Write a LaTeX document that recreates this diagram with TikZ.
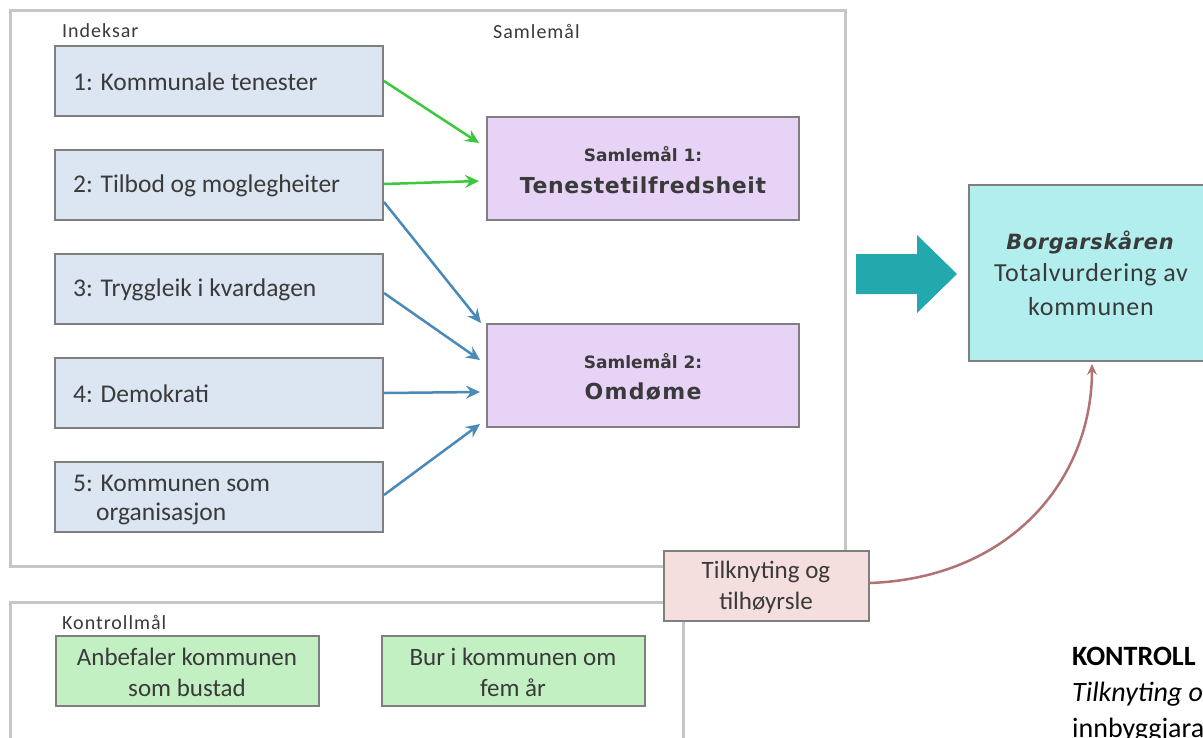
\documentclass[tikz,border=0pt]{standalone}
\usepackage{fontspec}
\setmainfont{Carlito}
\newfontfamily\titlefont{DejaVu Sans}
\usetikzlibrary{arrows.meta,calc}
\definecolor{txt}{HTML}{3A3A3A}
\definecolor{frame}{HTML}{C6C6C6}
\definecolor{bord}{HTML}{7F7F7F}
\definecolor{idxfill}{HTML}{DCE6F2}
\definecolor{samfill}{HTML}{E6D3F5}
\definecolor{borgfill}{HTML}{B2EEEE}
\definecolor{kfill}{HTML}{C2F0C2}
\definecolor{tfill}{HTML}{F5DEDE}
\definecolor{garrow}{HTML}{3CC83C}
\definecolor{barrow}{HTML}{4A8AB8}
\definecolor{teal}{HTML}{22A8AD}
\definecolor{curve}{HTML}{B07272}
\begin{document}
\begin{tikzpicture}[x=1pt,y=-1pt,
  every node/.style={text=txt,inner sep=0pt},
  framebox/.style={draw=frame,line width=3pt},
  idx/.style={draw=bord,line width=2pt,fill=idxfill,minimum width=328pt,minimum height=70pt},
  sam/.style={draw=bord,line width=2pt,fill=samfill,minimum width=312pt,minimum height=103pt},
  borg/.style={draw=bord,line width=2pt,fill=borgfill,minimum width=244pt,minimum height=176pt},
  kbox/.style={draw=bord,line width=2pt,fill=kfill,minimum width=263pt,minimum height=70pt},
  tbox/.style={draw=bord,line width=2pt,fill=tfill,minimum width=205pt,minimum height=70pt},
  btxt/.style={font=\fontsize{25.5}{31}\selectfont,anchor=west},
  ctxt/.style={font=\fontsize{25}{30}\selectfont,align=center},
  lbl/.style={font=\fontsize{20}{24}\selectfont\addfontfeatures{LetterSpace=5},anchor=west},
  sidetxt/.style={anchor=west,text=black,font=\fontsize{28}{32}\selectfont},
  g/.style={draw=garrow,line width=2.5pt,-{Stealth[length=14pt,width=13pt,inset=5pt]}},
  b/.style={draw=barrow,line width=2.5pt,-{Stealth[length=14pt,width=13pt,inset=5pt]}}
]
\useasboundingbox (0,0) rectangle (1203,737);
\fill[white] (0,0) rectangle (1203,737);

% frames
\draw[framebox] (10,10) rectangle (845,566);
\draw[framebox] (10,760) -- (10,602) -- (683,602) -- (683,760);

\node[lbl] (lind) at (62,31) {Indeksar};
\node[lbl] (lsam) at (493,31) {Samlemål};
\node[lbl] (lkon) at (62,622) {Kontrollmål};

% index boxes
\node[idx] (b1) at (219,81) {};
\node[btxt] at (73,82) {1: Kommunale tenester};
\node[idx] (b2) at (219,185) {};
\node[btxt] at (73,186) {2: Tilbod og moglegheiter};
\node[idx] (b3) at (219,289) {};
\node[btxt] at (73,290) {3: Tryggleik i kvardagen};
\node[idx] (b4) at (219,393) {};
\node[btxt] at (73,394) {4: Demokrati};
\node[idx] (b5) at (219,497) {};
\node[btxt] at (73,483) {5: Kommunen som};
\node[btxt] at (96,514) {organisasjon};

% samlemal boxes
\node[sam] (s1) at (643,168) {};
\node[font=\titlefont\bfseries\fontsize{17}{20}\selectfont] at (643,154) {Samlemål 1:};
\node[font=\titlefont\bfseries\fontsize{22}{26}\selectfont\addfontfeatures{LetterSpace=3}] at (643,185) {Tenestetilfredsheit};
\node[sam] (s2) at (643,375) {};
\node[font=\titlefont\bfseries\fontsize{17}{20}\selectfont] at (643,361) {Samlemål 2:};
\node[font=\titlefont\bfseries\fontsize{22}{26}\selectfont\addfontfeatures{LetterSpace=6}] at (643,392) {Omdøme};

% borgarskaren
\node[borg] (bs) at (1091,273) {};
\node[font=\titlefont\bfseries\itshape\fontsize{21}{25}\selectfont\addfontfeatures{LetterSpace=3}] at (1090,242) {Borgarskåren};
\node[font=\fontsize{26}{30}\selectfont\addfontfeatures{LetterSpace=3}] at (1091,275) {Totalvurdering av};
\node[font=\fontsize{26}{30}\selectfont\addfontfeatures{LetterSpace=3}] at (1091,307) {kommunen};

% big teal arrow
\fill[teal] (856,254) -- (917,254) -- (917,235) -- (957,274) -- (917,313) -- (917,294) -- (856,294) -- cycle;

% kontroll boxes
\node[kbox] (k1) at (187,671) {};
\node[ctxt] at (187,657) {Anbefaler kommunen};
\node[ctxt] at (187,688) {som bustad};
\node[kbox] (k2) at (513,671) {};
\node[ctxt] at (513,657) {Bur i kommunen om};
\node[ctxt] at (513,688) {fem år};

% tilknyting box
\node[tbox] (tk) at (766,586) {};
\node[ctxt] at (766,572) {Tilknyting og};
\node[ctxt] at (766,603) {tilhøyrsle};

% arrow targets
\coordinate (t1) at (479,143);
\coordinate (t2) at (479,181);
\coordinate (t3) at (481,323);
\coordinate (t4) at (480,360);
\coordinate (t5) at (480,392);
\coordinate (t6) at (480,424);
\coordinate (tb) at (1092,364);

\draw[g] (b1.east) -- (t1);
\draw[g] ($(b2.east)+(0,-1)$) -- (t2);
\draw[b] ($(b2.east)+(0,17)$) -- (t3);
\draw[b] ($(b3.east)+(0,4)$) -- (t4);
\draw[b] (b4.east) -- (t5);
\draw[b] ($(b5.east)+(0,-2)$) -- (t6);

\draw[curve,line width=2.5pt,-{Stealth[length=11pt,width=10pt,inset=4pt]}]
  ($(tk.east)+(0,-3)$) .. controls (1010,578) and (1092,480) .. (tb);

% side text, cut by the page edge as in the reference
\node[sidetxt,font=\bfseries\fontsize{28}{32}\selectfont] at (1072,656) {KONTROLL};
\node[sidetxt,font=\itshape\fontsize{28}{32}\selectfont] at (1072,694) {Tilknyting o};
\node[sidetxt] at (1072,730) {innbyggjara};
\end{tikzpicture}
\end{document}
